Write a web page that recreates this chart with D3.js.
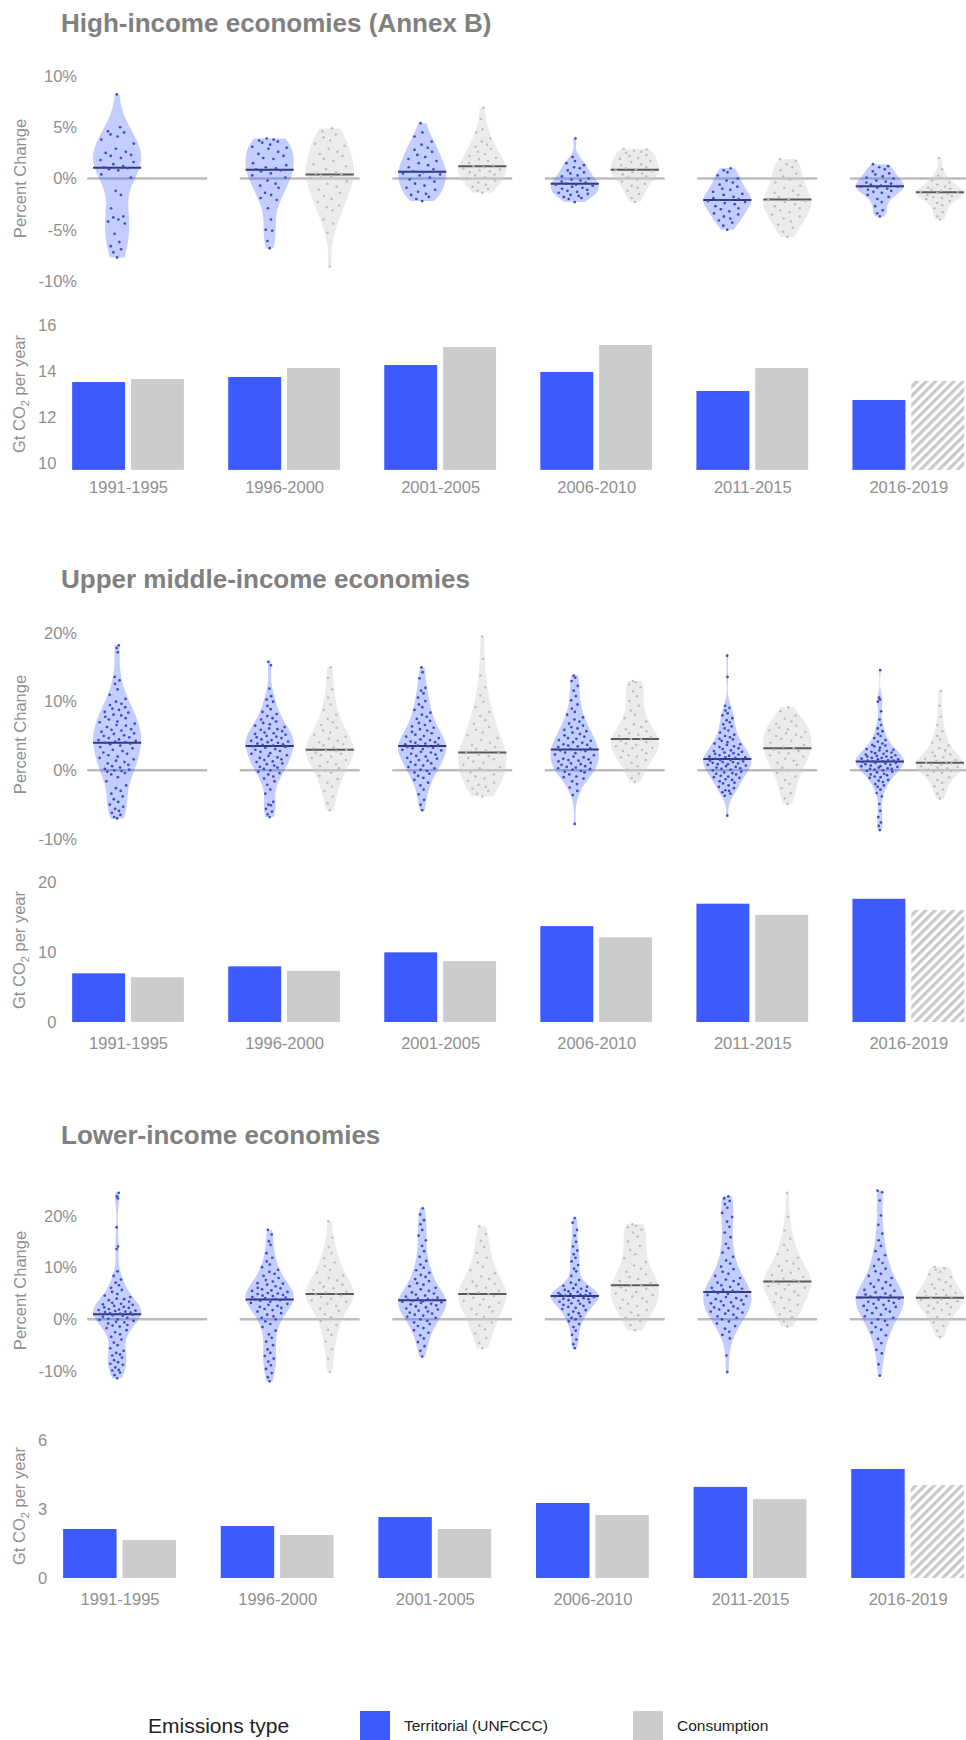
<!DOCTYPE html>
<html>
<head>
    <meta charset="utf-8">
    <title>Emissions growth by income group</title>
    <script src="https://d3js.org/d3.v7.min.js"></script>
    <style>
        body { margin: 0; background: #fff; }
        text { font-family: "Liberation Sans", Arial, sans-serif; }
    </style>
</head>
<body>
    <div id="chart"></div>

    <script>
        // ---- data ----
        const periods = ["1991-1995", "1996-2000", "2001-2005", "2006-2010", "2011-2015", "2016-2019"];
        const panelTitles = ["High-income economies (Annex B)", "Upper middle-income economies", "Lower-income economies"];
        const pctTicks = [[-10, -5, 0, 5, 10], [-10, 0, 10, 20], [-10, 0, 10, 20]];
        const barTicks = [[10, 12, 14, 16], [0, 10, 20], [0, 3, 6]];
        const barBase = [9.7, 0, 0];
        const hatchedPeriod = "2016-2019";

        // annual % change per country, territorial and consumption, per period
        const hiTerr = [
            [8.2, 5.0, 4.6, 4.5, 4.3, 4.1, 3.8, 3.4, 2.9, 2.6, 2.5, 2.3, 2.2, 2.0, 1.8, 1.6, 1.4, 1.2, 1.1, 1.0, 0.9, 0.8, 0.4, 0.1, -1.2, -1.6, -2.9, -3.7, -3.8, -4.0, -4.2, -4.4, -5.4, -6.2, -6.6, -6.9, -7.2, -7.7],
            [3.9, 3.8, 3.7, 3.6, 3.5, 3.3, 3.1, 3.0, 2.9, 2.6, 2.4, 2.2, 2.0, 1.9, 1.5, 1.3, 1.1, 1.0, 0.9, 0.8, 0.7, 0.5, 0.3, 0.1, -0.2, -0.5, -0.7, -0.9, -1.4, -1.6, -1.9, -2.1, -2.9, -4.0, -5.0, -5.1, -6.1, -6.8],
            [5.4, 4.5, 4.1, 3.6, 3.3, 3.0, 2.8, 2.6, 2.3, 2.1, 1.9, 1.7, 1.5, 1.3, 1.1, 0.9, 0.7, 0.6, 0.5, 0.4, 0.3, 0.1, -0.1, -0.3, -0.5, -0.7, -0.9, -1.1, -1.3, -1.5, -1.6, -1.8, -2.0, -2.2],
            [3.9, 2.1, 1.7, 1.5, 1.3, 1.1, 1.0, 0.8, 0.6, 0.5, 0.3, 0.2, 0.0, -0.1, -0.2, -0.3, -0.4, -0.5, -0.6, -0.6, -0.7, -0.8, -0.9, -1.0, -1.1, -1.2, -1.3, -1.4, -1.5, -1.6, -1.7, -1.8, -1.9, -2.0, -2.3],
            [1.0, 0.8, 0.6, 0.3, 0.0, -0.2, -0.4, -0.6, -0.8, -1.0, -1.1, -1.3, -1.5, -1.6, -1.8, -1.9, -2.0, -2.1, -2.1, -2.2, -2.3, -2.4, -2.5, -2.7, -2.9, -3.0, -3.2, -3.4, -3.5, -3.7, -3.9, -4.1, -4.3, -4.6, -5.0],
            [1.4, 1.2, 1.1, 0.9, 0.7, 0.5, 0.4, 0.2, 0.1, 0.0, -0.2, -0.3, -0.4, -0.5, -0.6, -0.7, -0.8, -0.8, -0.9, -1.0, -1.1, -1.2, -1.3, -1.4, -1.6, -1.8, -2.0, -2.3, -2.7, -3.1, -3.4, -3.7]
        ];
        const hiCons = [
            null,
            [4.9, 4.6, 4.3, 4.0, 3.7, 3.4, 3.2, 2.9, 2.6, 2.4, 2.2, 1.9, 1.7, 1.4, 1.2, 0.9, 0.6, 0.5, 0.4, 0.3, 0.2, 0.0, -0.3, -0.5, -0.8, -1.1, -1.4, -1.7, -2.0, -2.3, -2.6, -2.8, -3.1, -4.0, -4.4, -5.3, -8.6],
            [6.9, 5.8, 4.8, 4.5, 3.9, 3.6, 3.3, 3.1, 2.9, 2.6, 2.4, 2.2, 2.0, 1.9, 1.7, 1.5, 1.3, 1.2, 1.1, 1.0, 0.9, 0.8, 0.7, 0.6, 0.4, 0.3, 0.1, 0.0, -0.2, -0.4, -0.6, -0.8, -1.0, -1.2, -1.4],
            [2.9, 2.8, 2.7, 2.6, 2.5, 2.3, 2.2, 2.0, 1.9, 1.7, 1.6, 1.4, 1.3, 1.1, 1.0, 0.9, 0.8, 0.7, 0.6, 0.5, 0.4, 0.2, 0.1, -0.1, -0.3, -0.5, -0.7, -0.9, -1.2, -1.5, -1.9, -2.3],
            [1.9, 1.7, 1.4, 1.1, 0.8, 0.5, 0.2, -0.1, -0.4, -0.7, -0.9, -1.2, -1.4, -1.6, -1.8, -2.0, -2.1, -2.2, -2.3, -2.5, -2.7, -2.9, -3.1, -3.3, -3.5, -3.7, -3.9, -4.2, -4.5, -4.8, -5.2, -5.7],
            [2.0, 0.9, 0.3, 0.0, -0.2, -0.4, -0.6, -0.8, -0.9, -1.0, -1.1, -1.2, -1.3, -1.3, -1.4, -1.5, -1.6, -1.7, -1.8, -1.9, -2.0, -2.2, -2.4, -2.6, -2.9, -3.3, -3.7, -4.0]
        ];
        const umTerr = [
            [18.2, 17.8, 17.2, 13.6, 13.1, 12.6, 11.8, 11.0, 10.4, 10.0, 9.7, 9.5, 9.2, 9.0, 8.8, 8.5, 8.4, 8.1, 8.0, 7.8, 7.6, 7.4, 7.1, 7.0, 6.8, 6.6, 6.5, 6.3, 6.0, 5.9, 5.8, 5.6, 5.4, 5.3, 5.1, 5.0, 4.8, 4.7, 4.5, 4.4, 4.3, 4.2, 4.1, 4.0, 3.9, 3.8, 3.6, 3.4, 3.2, 3.0, 2.8, 2.6, 2.4, 2.2, 2.0, 1.8, 1.6, 1.4, 1.2, 1.0, 0.8, 0.6, 0.4, 0.2, 0.1, 0.0, -0.1, -0.2, -0.4, -0.6, -1.0, -1.6, -2.2, -2.6, -3.0, -3.4, -3.8, -4.2, -4.6, -5.0, -5.3, -5.6, -5.9, -6.2, -6.5, -6.8, -7.0],
            [15.8, 15.3, 11.9, 10.8, 10.3, 10.0, 9.4, 8.9, 8.5, 8.2, 7.9, 7.6, 7.4, 7.1, 6.9, 6.7, 6.5, 6.3, 6.1, 6.0, 5.9, 5.7, 5.5, 5.4, 5.3, 5.2, 5.0, 4.9, 4.8, 4.7, 4.5, 4.4, 4.3, 4.2, 4.1, 4.0, 3.9, 3.8, 3.7, 3.6, 3.5, 3.4, 3.3, 3.1, 3.0, 2.8, 2.7, 2.5, 2.4, 2.2, 2.1, 1.9, 1.8, 1.6, 1.5, 1.3, 1.2, 1.0, 0.9, 0.7, 0.5, 0.4, 0.2, 0.0, -0.2, -0.4, -0.6, -0.9, -1.2, -1.6, -2.1, -2.8, -3.4, -4.6, -5.0, -5.1, -5.6, -6.0, -6.4, -6.8],
            [15.0, 14.3, 13.4, 12.0, 11.6, 11.2, 10.6, 10.1, 9.6, 9.2, 8.8, 8.4, 8.1, 7.8, 7.5, 7.2, 6.9, 6.6, 6.4, 6.2, 6.0, 5.8, 5.6, 5.4, 5.2, 5.0, 4.9, 4.7, 4.5, 4.4, 4.2, 4.1, 4.0, 3.9, 3.8, 3.7, 3.6, 3.5, 3.4, 3.3, 3.2, 3.1, 3.0, 2.9, 2.7, 2.6, 2.4, 2.3, 2.1, 2.0, 1.8, 1.7, 1.5, 1.4, 1.2, 1.0, 0.8, 0.7, 0.5, 0.3, 0.1, -0.1, -0.3, -0.5, -0.8, -1.1, -1.4, -1.8, -2.2, -2.8, -3.5, -4.3, -5.0, -5.8],
            [13.8, 13.5, 13.0, 12.3, 11.6, 10.8, 10.2, 9.6, 9.0, 8.5, 8.1, 7.7, 7.4, 7.1, 6.8, 6.5, 6.3, 6.1, 5.9, 5.7, 5.5, 5.3, 5.1, 4.9, 4.7, 4.6, 4.4, 4.3, 4.1, 4.0, 3.8, 3.7, 3.6, 3.5, 3.4, 3.2, 3.1, 3.0, 2.9, 2.8, 2.6, 2.5, 2.3, 2.2, 2.0, 1.9, 1.7, 1.6, 1.5, 1.4, 1.3, 1.1, 1.0, 0.9, 0.8, 0.6, 0.5, 0.4, 0.3, 0.2, 0.1, -0.1, -0.2, -0.3, -0.6, -0.9, -1.0, -1.2, -1.6, -2.0, -2.5, -3.0, -3.6, -7.8],
            [16.7, 13.6, 9.4, 9.1, 8.7, 8.3, 8.0, 7.6, 7.3, 7.0, 6.7, 6.4, 6.1, 5.8, 5.5, 5.2, 5.0, 4.8, 4.6, 4.5, 4.3, 4.1, 3.9, 3.8, 3.7, 3.5, 3.4, 3.2, 3.1, 2.9, 2.8, 2.7, 2.6, 2.5, 2.4, 2.3, 2.2, 2.1, 2.0, 1.9, 1.9, 1.8, 1.7, 1.6, 1.5, 1.5, 1.4, 1.3, 1.2, 1.2, 1.1, 1.0, 0.9, 0.9, 0.8, 0.7, 0.6, 0.5, 0.4, 0.3, 0.2, 0.1, 0.0, -0.2, -0.3, -0.4, -0.5, -0.6, -0.8, -0.9, -1.0, -1.1, -1.3, -1.4, -1.6, -1.8, -1.9, -2.2, -2.4, -2.6, -2.9, -3.0, -3.2, -3.4, -3.7, -6.6],
            [14.6, 10.6, 10.3, 10.0, 8.6, 7.4, 6.6, 6.1, 5.7, 5.3, 5.0, 4.7, 4.4, 4.2, 3.9, 3.7, 3.6, 3.5, 3.3, 3.1, 3.0, 2.9, 2.8, 2.7, 2.6, 2.5, 2.4, 2.3, 2.2, 2.1, 2.0, 2.0, 1.9, 1.8, 1.8, 1.7, 1.6, 1.6, 1.5, 1.4, 1.4, 1.3, 1.3, 1.2, 1.1, 1.1, 1.0, 0.9, 0.8, 0.7, 0.6, 0.6, 0.5, 0.4, 0.3, 0.2, 0.2, 0.1, 0.0, -0.1, -0.2, -0.3, -0.5, -0.6, -0.7, -0.9, -1.0, -1.1, -1.4, -1.5, -1.7, -2.0, -2.2, -2.4, -2.8, -3.3, -3.8, -4.9, -5.9, -6.8, -7.6, -8.1, -8.7]
        ];
        const umCons = [
            null,
            [15.0, 13.5, 11.8, 10.6, 9.6, 8.8, 8.1, 7.5, 7.0, 6.6, 6.2, 5.8, 5.5, 5.2, 4.9, 4.6, 4.3, 4.1, 3.8, 3.6, 3.4, 3.2, 3.0, 2.9, 2.8, 2.6, 2.4, 2.2, 2.0, 1.8, 1.5, 1.2, 0.9, 0.6, 0.3, 0.0, -0.4, -0.8, -1.3, -1.8, -2.4, -3.0, -3.8, -4.8, -5.8],
            [19.5, 16.2, 13.8, 12.1, 10.9, 10.0, 9.2, 8.5, 7.9, 7.3, 6.8, 6.3, 5.9, 5.5, 5.1, 4.7, 4.4, 4.0, 3.7, 3.4, 3.1, 2.9, 2.7, 2.5, 2.3, 2.1, 1.8, 1.6, 1.3, 1.1, 0.8, 0.5, 0.3, 0.0, -0.3, -0.6, -0.9, -1.2, -1.5, -1.8, -2.1, -2.4, -2.7, -3.0, -3.4, -3.8],
            [13.0, 12.8, 12.5, 12.1, 11.5, 10.8, 10.1, 9.4, 8.7, 8.1, 7.6, 7.1, 6.7, 6.3, 6.0, 5.7, 5.4, 5.2, 5.0, 4.8, 4.6, 4.5, 4.3, 4.1, 3.9, 3.7, 3.5, 3.3, 3.2, 3.0, 2.8, 2.5, 2.2, 2.0, 1.9, 1.5, 1.1, 0.6, 0.1, -0.5, -1.1, -1.7],
            [9.2, 8.6, 8.0, 7.5, 7.1, 6.8, 6.5, 6.2, 6.0, 5.8, 5.6, 5.4, 5.2, 5.0, 4.8, 4.6, 4.3, 4.0, 3.7, 3.4, 3.2, 3.0, 2.8, 2.6, 2.5, 2.2, 2.0, 1.7, 1.4, 1.1, 0.8, 0.4, 0.0, -0.4, -0.9, -1.4, -2.0, -2.6, -3.3, -4.1, -4.9],
            [11.6, 9.4, 7.8, 6.6, 5.7, 5.0, 4.5, 4.0, 3.6, 3.2, 2.9, 2.6, 2.3, 2.1, 1.9, 1.7, 1.5, 1.4, 1.2, 1.1, 1.0, 0.9, 0.8, 0.6, 0.5, 0.4, 0.3, 0.1, -0.1, -0.2, -0.4, -0.7, -1.0, -1.4, -1.8, -2.3, -2.8, -3.4, -4.1]
        ];
        const loTerr = [
            [24.5, 23.8, 23.4, 17.8, 14.1, 13.6, 9.3, 8.4, 7.7, 7.1, 6.6, 6.1, 5.7, 5.3, 4.9, 4.6, 4.3, 4.0, 3.9, 3.7, 3.4, 3.2, 3.0, 2.9, 2.8, 2.6, 2.4, 2.3, 2.2, 2.0, 1.9, 1.8, 1.7, 1.6, 1.5, 1.4, 1.3, 1.2, 1.1, 1.0, 0.9, 0.8, 0.7, 0.5, 0.3, 0.1, 0.0, -0.1, -0.3, -0.5, -0.6, -0.8, -1.1, -1.2, -1.4, -1.7, -2.1, -2.5, -2.9, -3.4, -3.9, -4.5, -5.0, -5.6, -6.1, -6.5, -6.8, -7.0, -7.4, -7.9, -8.3, -8.6, -8.8, -9.3, -9.8, -9.9, -10.3, -10.8, -11.4],
            [17.3, 16.4, 15.1, 14.4, 12.8, 11.9, 11.2, 10.6, 10.1, 9.6, 9.2, 8.8, 8.4, 8.0, 7.6, 7.3, 7.0, 6.9, 6.7, 6.4, 6.1, 6.0, 5.8, 5.6, 5.5, 5.3, 5.1, 5.0, 4.9, 4.7, 4.6, 4.5, 4.3, 4.2, 4.1, 3.9, 3.8, 3.7, 3.6, 3.4, 3.2, 3.0, 2.8, 2.6, 2.4, 2.2, 2.0, 1.8, 1.5, 1.2, 0.9, 0.6, 0.3, 0.0, -0.4, -0.9, -1.5, -2.2, -2.9, -3.6, -4.3, -5.0, -5.8, -6.5, -7.1, -7.6, -8.2, -8.9, -9.6, -10.4, -11.2, -12.0],
            [21.5, 20.3, 19.2, 18.4, 17.3, 16.2, 15.3, 14.2, 13.2, 12.1, 11.3, 10.6, 10.0, 9.5, 9.0, 8.6, 8.2, 7.8, 7.4, 7.0, 6.7, 6.4, 6.1, 5.8, 5.5, 5.2, 5.0, 4.8, 4.6, 4.4, 4.2, 4.0, 3.9, 3.8, 3.7, 3.6, 3.5, 3.4, 3.3, 3.2, 3.0, 2.9, 2.7, 2.5, 2.3, 2.1, 1.9, 1.7, 1.5, 1.3, 1.1, 0.9, 0.7, 0.5, 0.3, 0.0, -0.3, -0.6, -0.9, -1.3, -1.7, -2.1, -2.6, -3.1, -3.7, -4.4, -5.2, -6.1, -7.2],
            [19.6, 18.7, 17.3, 16.2, 15.0, 14.1, 13.3, 12.6, 11.9, 11.2, 10.5, 9.8, 9.3, 8.4, 7.6, 7.1, 6.7, 6.5, 6.3, 6.0, 5.9, 5.7, 5.5, 5.4, 5.3, 5.1, 5.0, 4.9, 4.8, 4.8, 4.7, 4.6, 4.5, 4.4, 4.3, 4.2, 4.1, 4.0, 3.9, 3.7, 3.6, 3.4, 3.3, 3.1, 3.0, 2.8, 2.6, 2.4, 2.2, 2.0, 1.8, 1.5, 1.2, 0.9, 0.6, 0.3, 0.0, -0.4, -0.9, -1.5, -2.2, -3.0, -3.9, -4.8, -5.6],
            [23.8, 23.4, 22.9, 22.3, 21.6, 20.6, 19.8, 18.9, 17.9, 16.8, 15.9, 14.6, 13.8, 12.9, 12.1, 11.4, 10.8, 10.2, 9.7, 9.2, 8.8, 8.4, 8.0, 7.7, 7.4, 7.1, 6.8, 6.6, 6.3, 6.1, 5.9, 5.7, 5.5, 5.4, 5.3, 5.1, 4.9, 4.7, 4.5, 4.3, 4.1, 3.9, 3.7, 3.5, 3.3, 3.1, 2.9, 2.7, 2.5, 2.3, 2.1, 1.9, 1.7, 1.5, 1.3, 1.1, 0.9, 0.6, 0.3, 0.0, -0.4, -0.8, -1.3, -1.8, -2.4, -3.0, -3.7, -7.0, -10.2],
            [24.9, 24.6, 23.0, 20.1, 18.3, 16.6, 15.3, 14.2, 13.2, 12.4, 11.6, 10.9, 10.3, 9.8, 9.3, 8.8, 8.4, 8.0, 7.6, 7.2, 6.9, 6.6, 6.3, 6.0, 5.7, 5.5, 5.2, 5.0, 4.8, 4.6, 4.4, 4.3, 4.2, 4.0, 3.8, 3.6, 3.4, 3.2, 3.0, 2.8, 2.6, 2.4, 2.2, 2.0, 1.8, 1.5, 1.2, 0.9, 0.6, 0.3, 0.0, -0.3, -0.7, -1.1, -1.5, -2.0, -2.5, -3.1, -3.8, -4.6, -5.9, -6.6, -8.7, -10.9]
        ];
        const loCons = [
            null,
            [19.0, 15.8, 14.0, 12.8, 11.8, 11.0, 10.3, 9.6, 9.0, 8.5, 8.0, 7.5, 7.1, 6.7, 6.3, 6.0, 5.7, 5.4, 5.2, 5.0, 4.8, 4.6, 4.3, 4.0, 3.7, 3.4, 3.0, 2.6, 2.1, 1.6, 1.0, 0.4, -0.3, -1.1, -2.0, -3.0, -4.3, -5.8, -7.6, -10.2],
            [18.0, 16.5, 15.2, 14.0, 12.9, 11.9, 11.0, 10.2, 9.5, 8.9, 8.3, 7.8, 7.3, 6.9, 6.5, 6.1, 5.8, 5.5, 5.2, 5.0, 4.8, 4.5, 4.2, 3.9, 3.6, 3.2, 2.8, 2.4, 2.0, 1.5, 1.0, 0.5, 0.0, -0.6, -1.2, -1.9, -2.7, -3.6, -4.6, -5.6],
            [18.4, 18.1, 17.8, 17.4, 16.8, 16.0, 15.1, 14.2, 13.4, 12.6, 11.8, 11.1, 10.4, 9.8, 9.2, 8.7, 8.2, 7.8, 7.4, 7.0, 6.7, 6.5, 6.2, 5.9, 5.6, 5.3, 5.0, 4.7, 4.4, 4.1, 3.8, 3.4, 3.0, 2.6, 2.2, 1.8, 1.3, 0.8, 0.3, -0.3, -1.1, -2.1],
            [24.5, 19.8, 17.2, 15.6, 14.4, 13.4, 12.6, 11.9, 11.3, 10.8, 10.3, 9.8, 9.4, 9.0, 8.6, 8.2, 7.9, 7.6, 7.4, 7.2, 7.0, 6.7, 6.4, 6.1, 5.8, 5.4, 5.0, 4.6, 4.2, 3.8, 3.3, 2.8, 2.2, 1.6, 1.0, 0.4, -0.4, -1.4],
            [10.2, 9.9, 9.6, 9.2, 8.7, 8.2, 7.7, 7.2, 6.8, 6.4, 6.0, 5.7, 5.4, 5.1, 4.9, 4.7, 4.5, 4.3, 4.1, 3.9, 3.7, 3.5, 3.3, 3.0, 2.7, 2.4, 2.1, 1.8, 1.4, 1.0, 0.5, 0.0, -0.6, -1.3, -2.2, -3.4]
        ];

        // Gt CO2 per year, averages per period
        const hiBarTerr = [13.52, 13.74, 14.26, 13.96, 13.13, 12.74];
        const hiBarCons = [13.65, 14.13, 15.04, 15.13, 14.13, 13.57];
        const umBarTerr = [6.95, 7.95, 9.95, 13.7, 16.9, 17.6];
        const umBarCons = [6.4, 7.3, 8.7, 12.1, 15.3, 16.0];
        const loBarTerr = [2.13, 2.26, 2.65, 3.26, 3.96, 4.74];
        const loBarCons = [1.65, 1.87, 2.13, 2.74, 3.43, 4.04];

        const panels = [
            { title: panelTitles[0], terr: hiTerr, cons: hiCons, bTerr: hiBarTerr, bCons: hiBarCons },
            { title: panelTitles[1], terr: umTerr, cons: umCons, bTerr: umBarTerr, bCons: umBarCons },
            { title: panelTitles[2], terr: loTerr, cons: loCons, bTerr: loBarTerr, bCons: loBarCons }
        ];

        // ---- layout ----
        const width = 966, height = 1740;
        const panelGap = 556;
        const plotRight = 977;
        const pctRange = [[281, 76], [283, 77], [259, 104]];   // pixel rows of first/last pct tick
        const barRange = [[463, 325], [466, 326], [466, 328]]; // pixel rows of first/last bar tick
        const violinTop = 66, violinBottom = 291, barBottom = 470;
        const fs = 16.5;

        const blue = "#3d5afe", grey = "#cccccc";
        const tickColor = "#8f8f8f";

        const svg = d3.select("#chart").append("svg")
            .attr("width", width)
            .attr("height", height);

        const defs = svg.append("defs");
        const hatch = defs.append("pattern")
            .attr("id", "hatch")
            .attr("patternUnits", "userSpaceOnUse")
            .attr("width", 6.5)
            .attr("height", 6.5)
            .attr("patternTransform", "rotate(45)");
        hatch.append("rect").attr("width", 6.5).attr("height", 6.5).attr("fill", "#fff");
        hatch.append("rect").attr("width", 3.3).attr("height", 6.5).attr("fill", "#c9c9c9");

        // text width helper, for placing the plot area after the tick labels
        const probe = svg.append("text").attr("font-size", fs).attr("visibility", "hidden");
        function textWidth(s) {
            probe.text(s);
            return probe.node().getComputedTextLength();
        }

        function vdc(n) {
            let v = 0, denom = 1;
            while (n > 0) { denom *= 2; v += (n % 2) / denom; n = Math.floor(n / 2); }
            return v;
        }

        // gaussian kde, bandwidth like R's bw.nrd0, trimmed to the data range
        function density(values) {
            const s = values.slice().sort(d3.ascending);
            const n = s.length;
            const iqr = d3.quantileSorted(s, 0.75) - d3.quantileSorted(s, 0.25);
            const bw = 0.9 * Math.min(d3.deviation(s), iqr / 1.34) * Math.pow(n, -0.2);
            const raw = y => d3.sum(s, v => Math.exp(-0.5 * ((y - v) / bw) ** 2));
            const lo = s[0], hi = s[n - 1];
            const grid = d3.range(0, 161).map(i => lo + (hi - lo) * i / 160);
            const dens = grid.map(y => [y, raw(y)]);
            const maxD = d3.max(dens, d => d[1]);
            return { sorted: s, curve: dens.map(d => [d[0], d[1] / maxD]), at: y => raw(y) / maxD };
        }

        function styleTicks(sel) {
            sel.select(".domain").remove();
            sel.selectAll("text")
                .attr("font-size", fs)
                .attr("font-family", "Liberation Sans, Arial, sans-serif")
                .attr("fill", tickColor);
        }

        panels.forEach((p, pi) => {
            const g = svg.append("g").attr("transform", "translate(0," + (pi * panelGap) + ")");

            g.append("text")
                .attr("x", 61)
                .attr("y", 32)
                .attr("font-size", 26)
                .attr("font-weight", "bold")
                .attr("fill", "#808080")
                .text(p.title);

            // ---------- violin plot ----------
            const ticksV = pctTicks[pi];
            const yV = d3.scaleLinear().domain([ticksV[0], ticksV[ticksV.length - 1]]).range(pctRange[pi]);
            const tickRightV = 38.5 + d3.max(ticksV, t => textWidth(t + "%"));
            const xV = d3.scalePoint().domain(periods).range([tickRightV + 3, plotRight]).padding(0.44);
            const stepV = xV.step();
            const dodge = stepV * 0.197;
            const halfW = stepV * 0.158;

            g.append("g")
                .attr("transform", "translate(" + (tickRightV + 3) + ",0)")
                .call(d3.axisLeft(yV).tickValues(ticksV).tickSize(0).tickPadding(3).tickFormat(d => d + "%"))
                .call(styleTicks);

            g.append("text")
                .attr("transform", "translate(26," + ((violinTop + violinBottom) / 2) + ") rotate(-90)")
                .attr("text-anchor", "middle")
                .attr("font-size", fs)
                .attr("fill", tickColor)
                .text("Percent Change");

            // zero reference per period
            g.append("g").selectAll("line")
                .data(periods)
                .join("line")
                .attr("x1", d => xV(d) - stepV * 0.393)
                .attr("x2", d => xV(d) + stepV * 0.393)
                .attr("y1", yV(0))
                .attr("y2", yV(0))
                .attr("stroke", "#bdbdbd")
                .attr("stroke-width", 2.5);

            const groups = [];
            periods.forEach((per, i) => {
                if (p.terr[i]) groups.push({ per, type: "terr", values: p.terr[i], cx: xV(per) - dodge });
                if (p.cons[i]) groups.push({ per, type: "cons", values: p.cons[i], cx: xV(per) + dodge });
            });

            groups.forEach(gr => {
                const k = density(gr.values);
                const isT = gr.type === "terr";
                const area = d3.area()
                    .y(d => yV(d[0]))
                    .x0(d => gr.cx - d[1] * halfW)
                    .x1(d => gr.cx + d[1] * halfW);

                g.append("path")
                    .attr("d", area(k.curve))
                    .attr("fill", isT ? blue : grey)
                    .attr("fill-opacity", isT ? 0.3 : 0.4);

                const med = d3.median(gr.values);
                g.append("line")
                    .attr("x1", gr.cx - halfW)
                    .attr("x2", gr.cx + halfW)
                    .attr("y1", yV(med))
                    .attr("y2", yV(med))
                    .attr("stroke", isT ? "#333a6e" : "#5a5a5a")
                    .attr("stroke-width", 2);

                // quasirandom spread of the points inside the violin
                g.append("g").selectAll("circle")
                    .data(k.sorted)
                    .join("circle")
                    .attr("cx", (v, j) => gr.cx + (2 * vdc(j + 1) - 1) * halfW * 0.85 * k.at(v))
                    .attr("cy", v => yV(v))
                    .attr("r", isT ? 1.35 : 1.25)
                    .attr("fill", isT ? "#3a4cc9" : "#bdbdbd");
            });

            // ---------- bar chart ----------
            const ticksB = barTicks[pi];
            const yB = d3.scaleLinear().domain([ticksB[0], ticksB[ticksB.length - 1]]).range(barRange[pi]);
            const tickRightB = 38 + d3.max(ticksB, t => textWidth(String(t)));
            const xB = d3.scalePoint().domain(periods).range([tickRightB + 3, plotRight]).padding(0.44);
            const inner = d3.scaleBand()
                .domain(["terr", "cons"])
                .range([-xB.step() * 0.358, xB.step() * 0.358])
                .paddingInner(0.1);

            g.append("g")
                .attr("transform", "translate(" + (tickRightB + 3) + ",0)")
                .call(d3.axisLeft(yB).tickValues(ticksB).tickSize(0).tickPadding(3).tickFormat(d => String(d)))
                .call(styleTicks);

            const yTitle = g.append("text")
                .attr("transform", "translate(25," + ((318 + barBottom) / 2) + ") rotate(-90)")
                .attr("text-anchor", "middle")
                .attr("font-size", fs)
                .attr("fill", tickColor);
            yTitle.append("tspan").text("Gt CO");
            yTitle.append("tspan").attr("font-size", 11).attr("dy", 4).text("2");
            yTitle.append("tspan").attr("dy", -4).text(" per year");

            const bars = [];
            periods.forEach((per, i) => {
                bars.push({ per, type: "terr", v: p.bTerr[i] });
                bars.push({ per, type: "cons", v: p.bCons[i] });
            });

            g.append("g").selectAll("rect")
                .data(bars)
                .join("rect")
                .attr("x", d => xB(d.per) + inner(d.type))
                .attr("width", inner.bandwidth())
                .attr("y", d => yB(d.v))
                .attr("height", d => yB(barBase[pi]) - yB(d.v))
                .attr("fill", d => d.type === "terr" ? blue : (d.per === hatchedPeriod ? "url(#hatch)" : grey));

            g.append("g")
                .attr("transform", "translate(0," + barBottom + ")")
                .call(d3.axisBottom(xB).tickSize(0).tickPadding(11))
                .call(styleTicks);
        });

        // ---------- legend ----------
        const legend = svg.append("g");
        legend.append("text")
            .attr("x", 148)
            .attr("y", 1733)
            .attr("font-size", 21)
            .attr("fill", "#222")
            .text("Emissions type");

        const legendItems = [
            { label: "Territorial (UNFCCC)", color: blue, x: 360 },
            { label: "Consumption", color: grey, x: 633 }
        ];
        legendItems.forEach(it => {
            legend.append("rect")
                .attr("x", it.x)
                .attr("y", 1711)
                .attr("width", 30)
                .attr("height", 30)
                .attr("fill", it.color);
            legend.append("text")
                .attr("x", it.x + 44)
                .attr("y", 1731)
                .attr("font-size", 15.5)
                .attr("fill", "#222")
                .text(it.label);
        });
    </script>
</body>
</html>
